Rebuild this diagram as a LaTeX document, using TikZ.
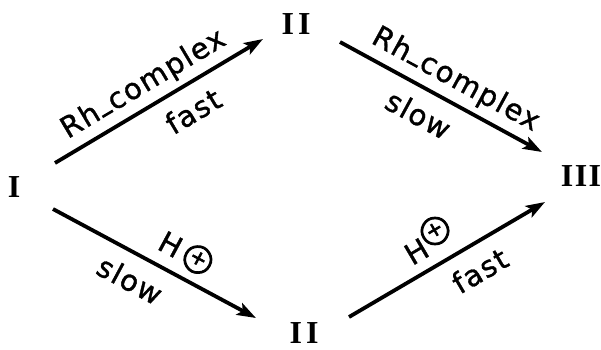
\documentclass[tikz,border=0pt]{standalone}
\usepackage{fontspec}
\usepackage{graphicx}
\newfontfamily\labfont[LetterSpace=5,FakeBold=1.2]{DejaVu Sans}
\newfontfamily\circfont[FakeBold=3.5]{DejaVu Sans}
\newfontfamily\numfont{Liberation Serif}
\usetikzlibrary{arrows.meta}
\newcommand{\rhdash}{\kern1pt\rule{0.42em}{0.09em}\kern1pt}
\newcommand{\cplus}{{\circfont\ooalign{\scalebox{0.95}{◯}\cr\hfil\raisebox{0.07em}{\scalebox{0.7}{+}}\hfil\cr}}}
\begin{document}
\begin{tikzpicture}[x=1pt,y=-1pt,
  num/.style={font=\numfont\bfseries\fontsize{32}{32}\selectfont, inner sep=0pt},
  lab/.style={font=\labfont\fontsize{29}{29}\selectfont, sloped, inner sep=0pt},
  rx/.style={line width=3.8pt, -{Stealth[length=19pt,width=13pt,inset=4pt]}}]
\useasboundingbox (0,0) rectangle (601,349);
\node[num] (n1) at (14,187) {I};
\node[num] (n2a) at (296,24) {I\kern4pt I};
\node[num] (n3) at (581,176) {I\kern1.5pt I\kern1.5pt I};
\node[num] (n2b) at (304,333) {I\kern4pt I};
\coordinate (a1s) at (55,163);  \coordinate (a1e) at (263,39);
\coordinate (a2s) at (340,42);  \coordinate (a2e) at (542,152);
\coordinate (a3s) at (53,209);  \coordinate (a3e) at (256,318);
\coordinate (a4s) at (349,317); \coordinate (a4e) at (545,202);
\draw[rx] (a1s) -- node[lab, above=6pt, pos=0.48] {Rh\rhdash complex}
                   node[lab, below=13pt, pos=0.6] {fast} (a1e);
\draw[rx] (a2s) -- node[lab, above=6pt, pos=0.52] {Rh\rhdash complex}
                   node[lab, below=13pt, pos=0.45] {slow} (a2e);
\draw[rx] (a3s) -- node[lab, above=12pt, pos=0.6] {H\,\raisebox{0.1em}{\cplus}}
                   node[lab, below=13pt, pos=0.44] {slow} (a3e);
\draw[rx] (a4s) -- node[lab, above=10pt, pos=0.47] {H\raisebox{0.4em}{\cplus}}
                   node[lab, below=13pt, pos=0.6] {fast} (a4e);
\end{tikzpicture}
\end{document}
